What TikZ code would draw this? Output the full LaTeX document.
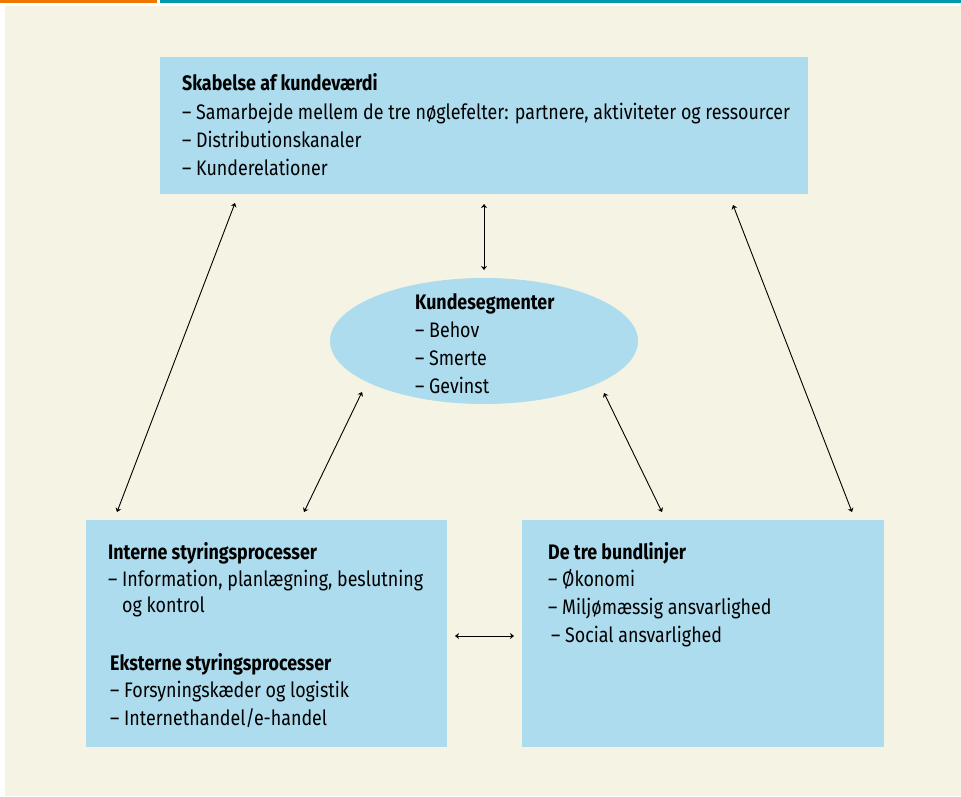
\documentclass[tikz,border=0pt]{standalone}
\usepackage{fontspec}
\setmainfont{Fira Sans}[FakeStretch=0.85]
\usetikzlibrary{arrows.meta,shapes.geometric}
\definecolor{cream}{HTML}{F5F3E3}
\definecolor{boxblue}{HTML}{ADDCEE}
\definecolor{barorange}{HTML}{F07800}
\definecolor{barteal}{HTML}{009BAA}
\begin{document}
\begin{tikzpicture}[x=1pt,y=-1pt,
  panel/.style={fill=boxblue,draw=none,inner sep=0pt,anchor=north west},
  txt/.style={anchor=base west,inner sep=0pt,font=\fontsize{21}{25}\selectfont},
  hdr/.style={txt,font=\fontsize{21}{25}\selectfont\bfseries},
  link/.style={{Stealth[length=4pt,width=6pt]}-{Stealth[length=4pt,width=6pt]},line width=0.9pt,black}]
\useasboundingbox (0,0) rectangle (961,796);
\fill[white] (0,0) rectangle (961,796);
\fill[cream] (5,6) rectangle (961,796);
\fill[barorange] (0,0) rectangle (157,3);
\fill[barteal] (160,0) rectangle (961,3);

% boxes
\node[panel,minimum width=648pt,minimum height=137pt] (top) at (160,57) {};
\node[ellipse,fill=boxblue,minimum width=308pt,minimum height=126pt,inner sep=0pt] (seg) at (484,341) {};
\node[panel,minimum width=361pt,minimum height=227pt] (left) at (86,520) {};
\node[panel,minimum width=362pt,minimum height=227pt] (right) at (522,520) {};

% texts
\node[hdr] (t1) at (182,90) {Skabelse af kundeværdi};
\node[txt] (t2) at (182,119) {– Samarbejde mellem de tre nøglefelter: partnere, aktiviteter og ressourcer};
\node[txt] (t3) at (182,147) {– Distributionskanaler};
\node[txt] (t4) at (182,175) {– Kunderelationer};

\node[hdr] (s1) at (415,309) {Kundesegmenter};
\node[txt] (s2) at (415,337) {– Behov};
\node[txt] (s3) at (415,365) {– Smerte};
\node[txt] (s4) at (415,393) {– Gevinst};

\node[hdr] (l1) at (108,559) {Interne styringsprocesser};
\node[txt] (l2) at (108,586) {– Information, planlægning, beslutning};
\node[txt] (l3) at (108,612) {\phantom{– }og kontrol};
\node[hdr] (l4) at (110,670) {Eksterne styringsprocesser};
\node[txt] (l5) at (110,697) {– Forsyningskæder og logistik};
\node[txt] (l6) at (110,725) {– Internethandel/e-handel};

\node[hdr] (r1) at (548,559) {De tre bundlinjer};
\node[txt] (r2) at (548,586) {– Økonomi};
\node[txt] (r3) at (548,614) {– Miljømæssig ansvarlighed};
\node[txt] (r4) at (551,642) {– Social ansvarlighed};

% connector end points
\coordinate (topA) at (235,203);
\coordinate (topB) at (484,204);
\coordinate (topC) at (733,205);
\coordinate (segB) at (484,270);
\coordinate (segL) at (362,392);
\coordinate (segR) at (604,393);
\coordinate (leftA) at (117,512);
\coordinate (leftB) at (304,512);
\coordinate (rightB) at (662,512);
\coordinate (rightC) at (852,512);
\coordinate (midL) at (455,636);
\coordinate (midR) at (514,636);

\draw[link] (topA) -- (leftA);
\draw[link] (topB) -- (segB);
\draw[link] (topC) -- (rightC);
\draw[link] (segL) -- (leftB);
\draw[link] (segR) -- (rightB);
\draw[link] (midL) -- (midR);
\end{tikzpicture}
\end{document}
